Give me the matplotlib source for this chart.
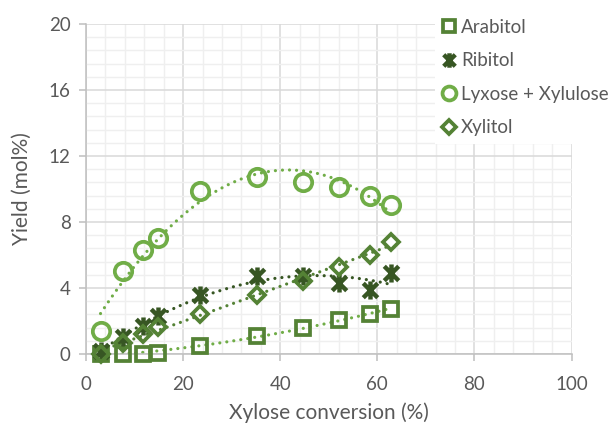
import numpy as np
import matplotlib
matplotlib.use("Agg")
import matplotlib.pyplot as plt
from matplotlib.path import Path

# values
conversion = [3.0, 7.6, 11.7, 14.9, 23.4, 35.3, 44.6, 52.0, 58.5, 62.8]
arabitol = [0.0, 0.0, 0.0, 0.05, 0.5, 1.1, 1.6, 2.05, 2.4, 2.75]
ribitol = [0.2, 1.0, 1.7, 2.3, 3.6, 4.7, 4.75, 4.3, 3.85, 4.9]
lyxose_xylulose = [1.4, 5.05, 6.3, 7.05, 9.9, 10.7, 10.4, 10.1, 9.6, 9.05]
xylitol = [0.0, 0.65, 1.2, 1.65, 2.4, 3.55, 4.45, 5.3, 6.0, 6.8]

c_dark = "#375623"
c_mid = "#548235"
c_light = "#70ad47"
txt = "#595959"

plt.rcParams['font.family'] = ['Lato', 'DejaVu Sans']

# excel style asterisk marker
star = Path([(-1, -1), (1, 1), (-1, 1), (1, -1), (0, -1.25), (0, 1.25)],
            [Path.MOVETO, Path.LINETO, Path.MOVETO, Path.LINETO, Path.MOVETO, Path.LINETO])

fig = plt.figure(figsize=(6.14, 4.28), dpi=100)
ax = fig.add_axes([0.14, 0.173, 0.791, 0.771])

series = [
    ("Arabitol", arabitol, "s", 10, c_mid, c_light),
    ("Ribitol", ribitol, star, 13, c_dark, c_dark),
    ("Lyxose + Xylulose", lyxose_xylulose, "o", 12.5, c_light, c_light),
    ("Xylitol", xylitol, "D", 8.5, c_mid, c_mid),
]

xs = np.linspace(min(conversion), max(conversion), 300)
for name, ys, mk, ms, col, tcol in series:
    # polynomial trendline (order 2), like excel
    p = np.polyfit(conversion, ys, 2)
    ax.plot(xs, np.polyval(p, xs), color=tcol, lw=2.3, ls=(0, (0.01, 2.2)),
            dash_capstyle='round', zorder=2)
for name, ys, mk, ms, col, tcol in series:
    ax.plot(conversion, ys, ls='none', marker=mk, ms=ms, mfc='none', mec=col,
            mew=2.7 if mk is not star else 3.2, label=name, zorder=3, clip_on=False)

ax.set_xlim(0, 100)
ax.set_ylim(0, 20)
ax.set_xticks(np.arange(0, 101, 20))
ax.set_yticks(np.arange(0, 21, 4))
ax.set_xticks(np.arange(0, 101, 4), minor=True)
ax.set_yticks(np.arange(0, 20.01, 0.8), minor=True)
ax.grid(True, which='major', color='#d9d9d9', lw=1.1, zorder=0)
ax.grid(True, which='minor', color='#efefef', lw=1.0, zorder=0)
ax.set_axisbelow(True)

for s in ['top', 'right']:
    ax.spines[s].set_visible(False)
for s in ['left', 'bottom']:
    ax.spines[s].set_color('#bfbfbf')
    ax.spines[s].set_linewidth(1.1)
ax.tick_params(which='major', axis='y', length=5, width=1.1, color='#bfbfbf',
               labelsize=13.5, labelcolor=txt, pad=6)
ax.tick_params(which='major', axis='x', length=5, width=1.1, color='#bfbfbf',
               labelsize=13.5, labelcolor=txt, pad=11)
ax.tick_params(which='minor', length=0)

ax.set_xlabel("Xylose conversion (%)", fontsize=15, color=txt, labelpad=7)
ax.set_ylabel("Yield (mol%)", fontsize=15, color=txt, labelpad=12)

leg = fig.legend(loc='upper left', bbox_to_anchor=(0.694, 0.996), frameon=True,
                 fontsize=13.5, labelcolor=txt, labelspacing=0.88,
                 handlelength=0.6, handletextpad=0.35, borderpad=0.4,
                 markerscale=0.8)
leg.get_frame().set_facecolor('white')
leg.get_frame().set_edgecolor('none')
leg.get_frame().set_alpha(1)
leg.get_frame().set_boxstyle('square', pad=0)

fig.savefig("out.png", dpi=100)
